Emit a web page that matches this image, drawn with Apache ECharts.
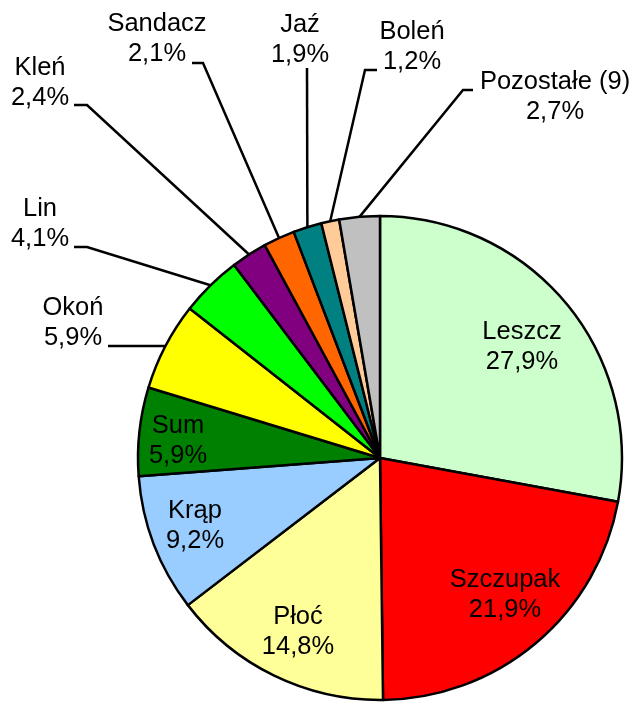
<!DOCTYPE html>
<html>
<head>
<meta charset="utf-8">
<script src="https://cdn.jsdelivr.net/npm/echarts@6/dist/echarts.min.js"></script>
<style>
  html, body { margin: 0; padding: 0; background: #fff; }
  #chart { width: 637px; height: 702px; }
</style>
</head>
<body>
<div id="chart"></div>
<script>
const species = ['Leszcz', 'Szczupak', 'Płoć', 'Krąp', 'Sum', 'Okoń', 'Lin', 'Kleń', 'Sandacz', 'Jaź', 'Boleń', 'Pozostałe (9)']
const shares = [27.9, 21.9, 14.8, 9.2, 5.9, 5.9, 4.1, 2.4, 2.1, 1.9, 1.2, 2.7]
const sliceColors = ['#CCFFCC', '#FF0000', '#FFFF99', '#99CCFF', '#008000', '#FFFF00', '#00FF00', '#800080', '#FF6600', '#008080', '#FFCC99', '#C0C0C0']
const insideLabels = ['Leszcz', 'Szczupak', 'Płoć', 'Krąp', 'Sum']

// layout only: where each label block sits, and leader-line elbows
const CX = 380, CY = 458, R = 242
const labelAt = {
  'Leszcz': [522, 347],
  'Szczupak': [505, 595],
  'Płoć': [298, 632],
  'Krąp': [195, 526],
  'Sum': [178, 441],
  'Okoń': [73, 323],
  'Lin': [40, 224],
  'Kleń': [40, 83],
  'Sandacz': [157, 39],
  'Jaź': [300, 40],
  'Boleń': [412, 47],
  'Pozostałe (9)': [555, 97],
}
const elbows = {
  'Okoń': [[118, 346], [108, 346]],
  'Lin': [[87, 247], [74, 247]],
  'Kleń': [[87, 105], [74, 105]],
  'Sandacz': [[203, 63], [192, 63]],
  'Jaź': [[307, 68], [307, 68]],
  'Boleń': [[365, 70], [377, 70]],
  'Pozostałe (9)': [[463, 90], [473, 90]],
}

// edge point at the middle of a slice (fallback if the library gives none)
function edgePoint(i) {
  let before = 0
  for (let k = 0; k < i; k++) before += shares[k]
  const total = shares.reduce((a, b) => a + b, 0)
  const ang = ((before + shares[i] / 2) / total) * Math.PI * 2
  return [CX + R * Math.sin(ang), CY - R * Math.cos(ang)]
}

const data = species.map((name, i) => {
  const inside = insideLabels.indexOf(name) >= 0
  return {
    name: name,
    value: shares[i],
    itemStyle: { color: sliceColors[i] },
    label: { position: inside ? 'inside' : 'outside' },
    labelLine: { show: !inside },
  }
})

const chart = echarts.init(document.getElementById('chart'), null, { renderer: 'canvas' })
chart.setOption({
  animation: false,
  backgroundColor: '#fff',
  series: [
    {
      type: 'pie',
      center: [CX, CY],
      radius: R,
      startAngle: 90,
      clockwise: true,
      avoidLabelOverlap: false,
      silent: true,
      itemStyle: {
        borderColor: '#000',
        borderWidth: 2.5,
      },
      label: {
        show: true,
        color: '#000',
        fontFamily: '"Liberation Sans", Arial, sans-serif',
        fontSize: 25.5,
        lineHeight: 30,
        align: 'center',
        formatter: (p) => p.name + '\n' + p.value.toFixed(1).replace('.', ',') + '%',
      },
      labelLine: {
        lineStyle: { color: '#000', width: 2.5 },
      },
      labelLayout: function (params) {
        const name = species[params.dataIndex]
        const pos = labelAt[name]
        const out = { x: pos[0], y: pos[1], align: 'center', verticalAlign: 'middle' }
        if (elbows[name]) {
          const start = params.labelLinePoints && params.labelLinePoints[0]
            ? params.labelLinePoints[0]
            : edgePoint(params.dataIndex)
          out.labelLinePoints = [start].concat(elbows[name])
        }
        return out
      },
      data: data,
    },
  ],
})
</script>
</body>
</html>
